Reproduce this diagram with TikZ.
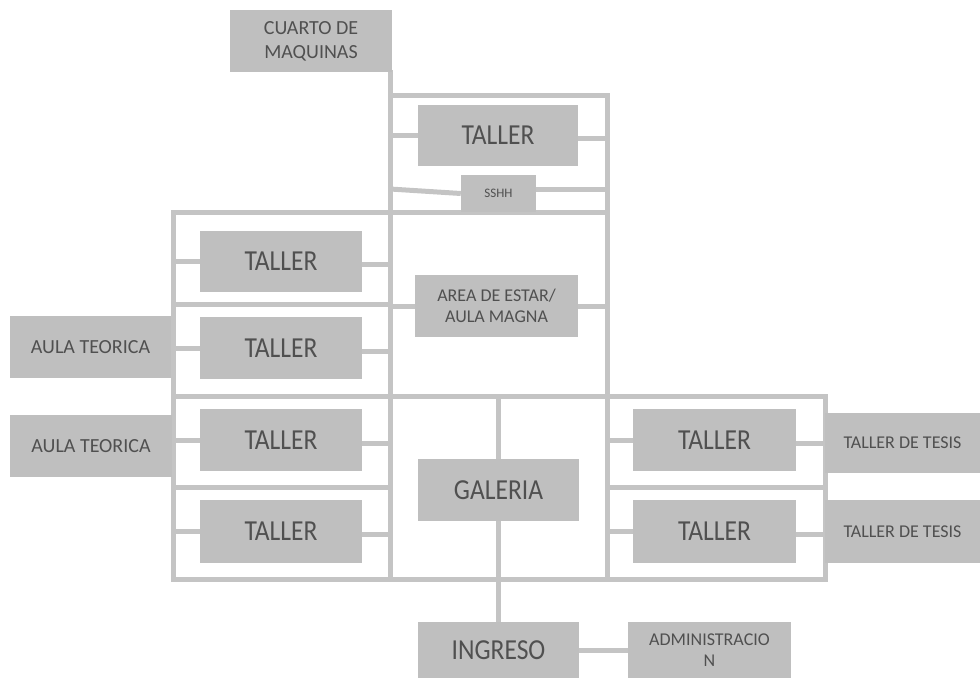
\documentclass[tikz,border=0pt]{standalone}
\usepackage{fontspec}
\setmainfont{Carlito}
\newfontfamily\narrowfont[FakeStretch=0.88]{Carlito}
\usetikzlibrary{positioning}
\definecolor{roomgray}{RGB}{191,191,191}
\definecolor{wallgray}{RGB}{196,196,196}
\definecolor{textgray}{RGB}{80,80,80}

\begin{document}
\begin{tikzpicture}[x=1pt,y=-1pt,
        room/.style={fill=roomgray, text=textgray, inner sep=0pt, minimum width=162pt, minimum height=62pt, align=center},
        big/.style={font=\narrowfont\fontsize{29}{32}\selectfont},
        mid/.style={font=\fontsize{20}{24}\selectfont},
        small/.style={font=\fontsize{18}{21}\selectfont},
        tiny/.style={font=\fontsize{13}{15}\selectfont},
        wall/.style={draw=wallgray, line width=5pt, line cap=rect},
        link/.style={draw=wallgray, line width=5pt}]
    \useasboundingbox (0,0) rectangle (980,680);
    % walls of the plan
    \draw[wall] (390,72) -- (390,579);
    \draw[wall] (390,95) -- (607,95) -- (607,579);
    \draw[wall] (173,579) -- (173,212) -- (607,212);
    \draw[wall] (173,304) -- (390,304);
    \draw[wall] (173,396) -- (825,396) -- (825,579) -- (173,579);
    \draw[wall] (173,487) -- (390,487) (607,487) -- (825,487);
    % rooms
    \node[room, mid] (cuarto) at (311,41) {CUARTO DE\\MAQUINAS};
    \node[room, big, minimum width=160pt, minimum height=61pt] (tA) at (498,135.5) {TALLER};
    \node[room, tiny, minimum width=75pt, minimum height=37pt] (sshh) at (498.5,193.5) {SSHH};
    \node[room, big, minimum height=61pt] (tB) at (281,261.5) {TALLER};
    \node[room, small, minimum width=163pt] (estar) at (496.5,306) {AREA DE ESTAR/\\AULA MAGNA};
    \node[room, mid, minimum width=161pt] (aula1) at (90.5,347) {AULA TEORICA};
    \node[room, big] (tC) at (281,348) {TALLER};
    \node[room, mid] (aula2) at (91,446) {AULA TEORICA};
    \node[room, big] (tD) at (281,440) {TALLER};
    \node[room, big, minimum height=63pt] (tE) at (281,531.5) {TALLER};
    \node[room, big, minimum width=161pt] (galeria) at (498.5,490) {GALERIA};
    \node[room, big, minimum width=163pt] (tF) at (714.5,440) {TALLER};
    \node[room, big, minimum width=163pt, minimum height=63pt] (tG) at (714.5,531.5) {TALLER};
    \node[room, small, minimum width=155pt, minimum height=60pt] (tesis1) at (902.5,443) {TALLER DE TESIS};
    \node[room, small, minimum width=155pt, minimum height=63pt] (tesis2) at (902.5,531.5) {TALLER DE TESIS};
    \node[room, big, minimum width=161pt, minimum height=56pt] (ingreso) at (498.5,650) {INGRESO};
    \node[room, small, minimum width=163pt, minimum height=56pt] (admin) at (709.5,650) {ADMINISTRACIO\\N};
    % links from rooms to the walls
    \coordinate (sshhL) at (390,189);
    \foreach \r/\wl/\wr in {tA/390/607, tB/173/390, tC/173/390, tD/173/390, tE/173/390, tF/607/825, tG/607/825}{
        \draw[link] (\r.west) -- (\r.west -| \wl,0);
        \draw[link] ([yshift=-3pt]\r.east) -- ([yshift=-3pt]\r.east -| \wr,0);
    }
    \draw[link] (sshhL) -- (sshh.west);
    \draw[link] ([yshift=4pt]sshh.east) -- ([yshift=4pt]sshh.east -| 607,0);
    \draw[link] (estar.west) -- (estar.west -| 390,0);
    \draw[link] (estar.east) -- (estar.east -| 607,0);
    \draw[link] (galeria.north) -- (galeria.north |- 0,396);
    \draw[link] (galeria) -- (ingreso);
    \draw[link] (ingreso) -- (admin);
\end{tikzpicture}
\end{document}
